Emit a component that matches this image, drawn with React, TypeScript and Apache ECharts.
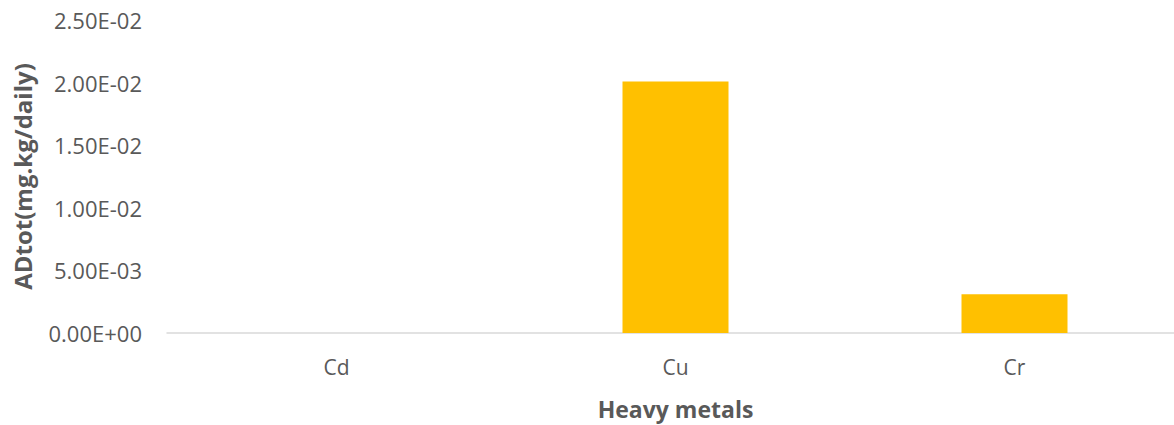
import React, { useEffect, useRef } from "react";
import * as echarts from "echarts";

const categories = ["Cd", "Cu", "Cr"];
const values = [0.000004, 0.02008, 0.0031];
const yTicks = { min: 0, max: 0.025, interval: 0.005 };

const TEXT = "#595959";
const FONT = "'Open Sans', 'DejaVu Sans', sans-serif";

function sci(v: number): string {
  const [m, e] = v.toExponential(2).split("e");
  const sign = e[0] === "-" ? "-" : "+";
  const digits = e.replace(/^[+-]/, "").padStart(2, "0");
  return m + "E" + sign + digits;
}

export default function App() {
  const ref = useRef<HTMLDivElement>(null);
  useEffect(() => {
    document.body.style.margin = "0";
    const chart = echarts.init(ref.current!, undefined, { renderer: "svg" });
    chart.setOption({
      animation: false,
      backgroundColor: "#ffffff",
      grid: { left: 167, right: 0, top: 20, bottom: 90, containLabel: false },
      xAxis: {
        type: "category",
        data: categories,
        name: "Heavy metals",
        nameLocation: "middle",
        nameGap: 64,
        nameTextStyle: { color: TEXT, fontSize: 23, fontWeight: "bold", fontFamily: FONT },
        axisLine: { lineStyle: { color: "#D9D9D9", width: 1.5 } },
        axisTick: { show: false },
        axisLabel: { color: TEXT, fontSize: 21, fontFamily: FONT, margin: 23 },
        splitLine: { show: false },
      },
      yAxis: {
        type: "value",
        min: yTicks.min,
        max: yTicks.max,
        interval: yTicks.interval,
        name: "ADtot(mg.kg/daily)",
        nameLocation: "middle",
        nameGap: 133,
        nameTextStyle: { color: TEXT, fontSize: 24, fontWeight: "bold", fontFamily: FONT },
        axisLine: { show: false },
        axisTick: { show: false },
        splitLine: { show: false },
        axisLabel: {
          color: TEXT,
          fontSize: 22,
          fontFamily: FONT,
          margin: 25,
          formatter: (v: number) => sci(v),
        },
      },
      series: [
        {
          type: "bar",
          data: values,
          barWidth: 106,
          itemStyle: { color: "#FFC000" },
        },
      ],
    });
    return () => chart.dispose();
  }, []);
  return (
    <div style={{ width: 1174, height: 425, overflow: "hidden", position: "relative" }}>
      <div ref={ref} style={{ width: 1184, height: 425 }} />
    </div>
  );
}
